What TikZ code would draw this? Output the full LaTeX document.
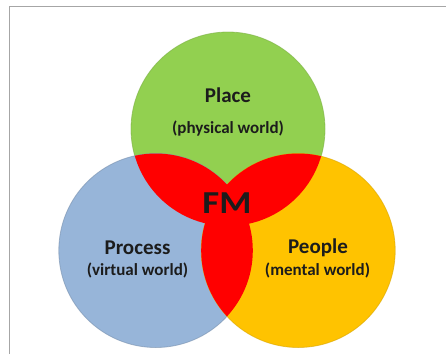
\documentclass[tikz,border=0pt]{standalone}
\usepackage{fontspec}
\setmainfont{Carlito}
\definecolor{placegreen}{HTML}{92D050}
\definecolor{processblue}{HTML}{97B5D9}
\definecolor{peopleyellow}{HTML}{FFC300}
\definecolor{overlapred}{HTML}{FF0000}
\definecolor{framegray}{HTML}{A6A6A6}
\definecolor{labelink}{HTML}{1C1C1C}
\begin{document}
\begin{tikzpicture}[x=1pt,y=-1pt,
  setcircle/.style={circle,minimum size=194pt,inner sep=0pt},
  title/.style={font=\bfseries\fontsize{21}{23}\selectfont,text=labelink},
  subtitle/.style={font=\bfseries\fontsize{17}{19}\selectfont,text=labelink},
  rim/.style={line width=0.8pt,draw=#1,draw opacity=0.6}]
\useasboundingbox (0,0) rectangle (446,354);
\fill[white] (0,0) rectangle (446,354);
% frame
\draw[framegray,line width=1.6pt] (9.5,354) -- (9.5,6.5) -- (446,6.5);

% the three sets
\node[setcircle,fill=placegreen,rim=placegreen!85!black] (place) at (228,129) {};
\node[setcircle,fill=processblue,rim=processblue!80!black] (process) at (155.8,250.5) {};
\node[setcircle,fill=peopleyellow,rim=peopleyellow!85!black] (people) at (298.2,250.5) {};

% pairwise overlaps
\begin{scope}
  \clip (place.center) circle[radius=97pt];
  \fill[overlapred] (process.center) circle[radius=97pt];
  \fill[overlapred] (people.center) circle[radius=97pt];
\end{scope}
\begin{scope}
  \clip (process.center) circle[radius=97pt];
  \fill[overlapred] (people.center) circle[radius=97pt];
\end{scope}

% labels
\node[title] (placet) at (228,95) {Place};
\node[subtitle] (places) at (228,129) {(physical world)};
\node[font=\bfseries\fontsize{32}{34}\selectfont,text=labelink,xscale=1.15] (fm) at (227,203) {FM};
\node[title] (processt) at (137.5,248) {Process};
\node[subtitle] (processs) at (137.5,270) {(virtual world)};
\node[title] (peoplet) at (318,248) {People};
\node[subtitle] (peoples) at (317.5,270) {(mental world)};
\end{tikzpicture}
\end{document}
